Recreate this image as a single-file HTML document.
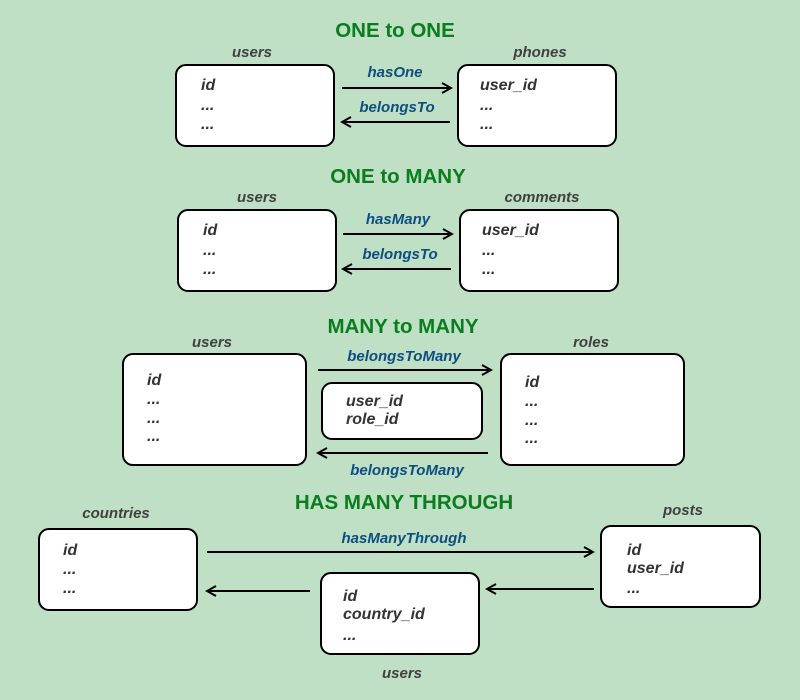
<!DOCTYPE html>
<html><head><style>body{margin:0;background:#bfe0c4}svg{display:block}</style></head><body>
<svg width="800" height="700" xmlns="http://www.w3.org/2000/svg" font-family="Liberation Sans, sans-serif">
<defs><marker id="a" markerWidth="12" markerHeight="12" refX="10" refY="6" orient="auto" markerUnits="userSpaceOnUse"><path d="M1,1 L10,6 L1,11" fill="none" stroke="#000" stroke-width="2"/></marker></defs>
<rect width="800" height="700" fill="#bfe0c4"/>
<g font-weight="bold" font-size="20.5" fill="#0a7d1e" text-anchor="middle">
<text x="395" y="37">ONE to ONE</text><text x="398" y="183">ONE to MANY</text>
<text x="403" y="333">MANY to MANY</text><text x="404" y="509">HAS MANY THROUGH</text></g>
<g fill="#fff" stroke="#000" stroke-width="2">
<rect x="176" y="65" width="158" height="81" rx="10"/><rect x="458" y="65" width="158" height="81" rx="10"/>
<rect x="178" y="210" width="158" height="81" rx="10"/><rect x="460" y="210" width="158" height="81" rx="10"/>
<rect x="123" y="354" width="183" height="111" rx="10"/><rect x="501" y="354" width="183" height="111" rx="10"/>
<rect x="322" y="383" width="160" height="56" rx="10"/>
<rect x="39" y="529" width="158" height="81" rx="10"/><rect x="601" y="526" width="159" height="81" rx="10"/>
<rect x="321" y="573" width="158" height="81" rx="10"/></g>
<g stroke="#000" stroke-width="2" marker-end="url(#a)">
<line x1="342" y1="88" x2="451" y2="88"/><line x1="450" y1="122" x2="342" y2="122"/>
<line x1="343" y1="234" x2="452" y2="234"/><line x1="451" y1="269" x2="343" y2="269"/>
<line x1="318" y1="370" x2="491" y2="370"/><line x1="488" y1="453" x2="318" y2="453"/>
<line x1="207" y1="552" x2="593" y2="552"/><line x1="310" y1="591" x2="207" y2="591"/>
<line x1="594" y1="589" x2="487" y2="589"/></g>
<g font-weight="bold" font-style="italic" font-size="15" fill="#0d4d80" text-anchor="middle">
<text x="395" y="77">hasOne</text><text x="397" y="112">belongsTo</text>
<text x="398" y="224">hasMany</text><text x="400" y="259">belongsTo</text>
<text x="404" y="361">belongsToMany</text><text x="407" y="475">belongsToMany</text>
<text x="404" y="543">hasManyThrough</text></g>
<g font-weight="bold" font-style="italic" font-size="15" fill="#404040" text-anchor="middle">
<text x="252" y="57">users</text><text x="540" y="57">phones</text>
<text x="257" y="202">users</text><text x="542" y="202">comments</text>
<text x="212" y="347">users</text><text x="591" y="347">roles</text>
<text x="116" y="518">countries</text><text x="683" y="515">posts</text>
<text x="402" y="678">users</text></g>
<g font-weight="bold" font-style="italic" font-size="16" fill="#333">
<text x="201" y="90">id</text><text x="201" y="110">...</text><text x="201" y="129">...</text>
<text x="480" y="90">user_id</text><text x="480" y="110">...</text><text x="480" y="129">...</text>
<text x="203" y="235">id</text><text x="203" y="255">...</text><text x="203" y="274">...</text>
<text x="482" y="235">user_id</text><text x="482" y="255">...</text><text x="482" y="274">...</text>
<text x="147" y="385">id</text><text x="147" y="404">...</text><text x="147" y="423">...</text><text x="147" y="441">...</text>
<text x="525" y="387">id</text><text x="525" y="406">...</text><text x="525" y="425">...</text><text x="525" y="443">...</text>
<text x="346" y="406">user_id</text><text x="346" y="424">role_id</text>
<text x="63" y="555">id</text><text x="63" y="574">...</text><text x="63" y="593">...</text>
<text x="627" y="555">id</text><text x="627" y="573">user_id</text><text x="627" y="593">...</text>
<text x="343" y="601">id</text><text x="343" y="619">country_id</text><text x="343" y="640">...</text></g>
</svg></body></html>
